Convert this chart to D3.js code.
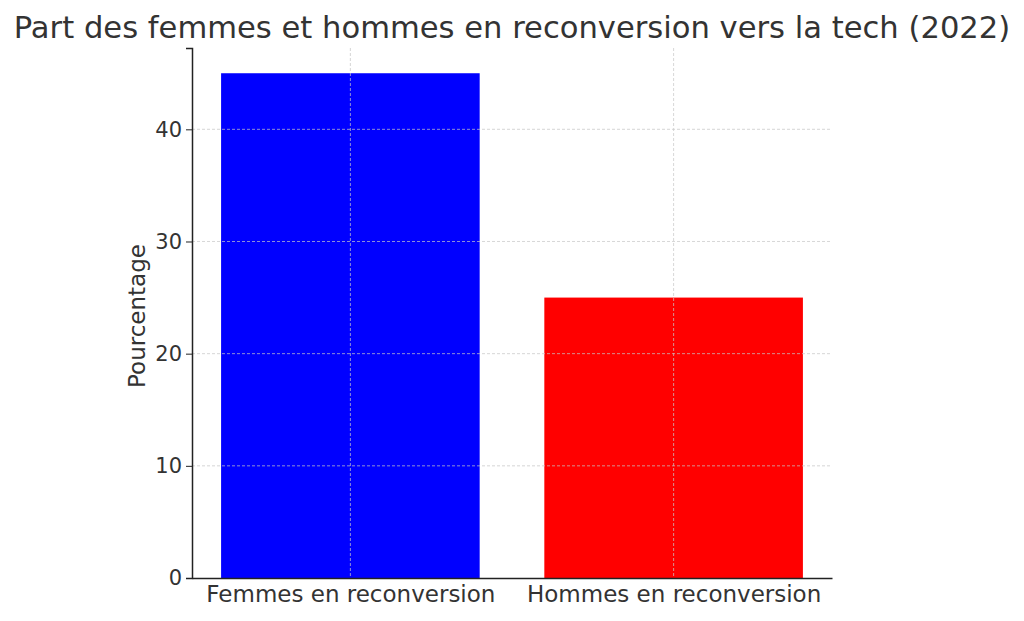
<!DOCTYPE html>
<html><head><meta charset="utf-8">
<script src="https://cdn.jsdelivr.net/npm/d3@7"></script>
<style>body{margin:0;background:#fff}svg{display:block}text{font-family:"DejaVu Sans",sans-serif}</style>
</head><body><svg id="c" width="1024" height="621"></svg>
<script>
const categories = ["Femmes en reconversion", "Hommes en reconversion"];
const values = [45, 25];
const colors = ["#0000ff", "#ff0000"];
const yTicks = [0, 10, 20, 30, 40];
const titleText = "Part des femmes et hommes en reconversion vers la tech (2022)";
const yLabel = "Pourcentage";

const svg = d3.select("#c");
const m = {l:192, r:832, t:48, b:578};
const x = d3.scaleLinear().domain([-0.49, 1.49]).range([m.l, m.r]);
const y = d3.scaleLinear().domain([0, 47.25]).range([m.b, m.t]);
const bw = x(0.4) - x(0);
const txt = "#333";

svg.append("g").selectAll("rect").data(values).join("rect")
  .attr("x", (d,i)=>x(i)-bw).attr("width", bw*2)
  .attr("y", d=>y(d)).attr("height", d=>y(0)-y(d))
  .attr("fill", (d,i)=>colors[i]);

const grid = svg.append("g").attr("stroke","#c8c8c8").attr("stroke-width",0.8).attr("stroke-dasharray","3,2").attr("opacity",0.9);
grid.selectAll("line.h").data(yTicks.filter(t=>t>0)).join("line").attr("class","h")
  .attr("x1",m.l).attr("x2",m.r).attr("y1",d=>y(d)).attr("y2",d=>y(d));
grid.selectAll("line.v").data(categories.map((c,i)=>i)).join("line").attr("class","v")
  .attr("x1",d=>x(d)).attr("x2",d=>x(d)).attr("y1",m.t).attr("y2",m.b);

const ya = svg.append("g").attr("transform",`translate(${m.l},0)`)
  .call(d3.axisLeft(y).tickValues(yTicks).tickSize(6).tickPadding(4));
ya.select(".domain").attr("stroke","#222").attr("stroke-width",1.5);
ya.selectAll(".tick line").attr("stroke","#222");
ya.selectAll(".tick text").attr("font-size",21).attr("fill",txt).attr("font-family","DejaVu Sans");

const xa = svg.append("g").attr("transform",`translate(0,${m.b})`)
  .call(d3.axisBottom(x).tickValues([0,1]).tickFormat((d)=>categories[d]).tickSize(0).tickPadding(6));
xa.select(".domain").attr("stroke","#222").attr("stroke-width",1.5);
xa.selectAll(".tick text").attr("font-size",23).attr("fill",txt).attr("font-family","DejaVu Sans").attr("dy","0.78em");

svg.append("text").attr("x",512).attr("y",38).attr("text-anchor","middle")
  .attr("font-size",30.6).attr("fill",txt).text(titleText);
svg.append("text").attr("transform",`translate(145,316) rotate(-90)`)
  .attr("text-anchor","middle").attr("font-size",23).attr("fill",txt).text(yLabel);
</script></body></html>
